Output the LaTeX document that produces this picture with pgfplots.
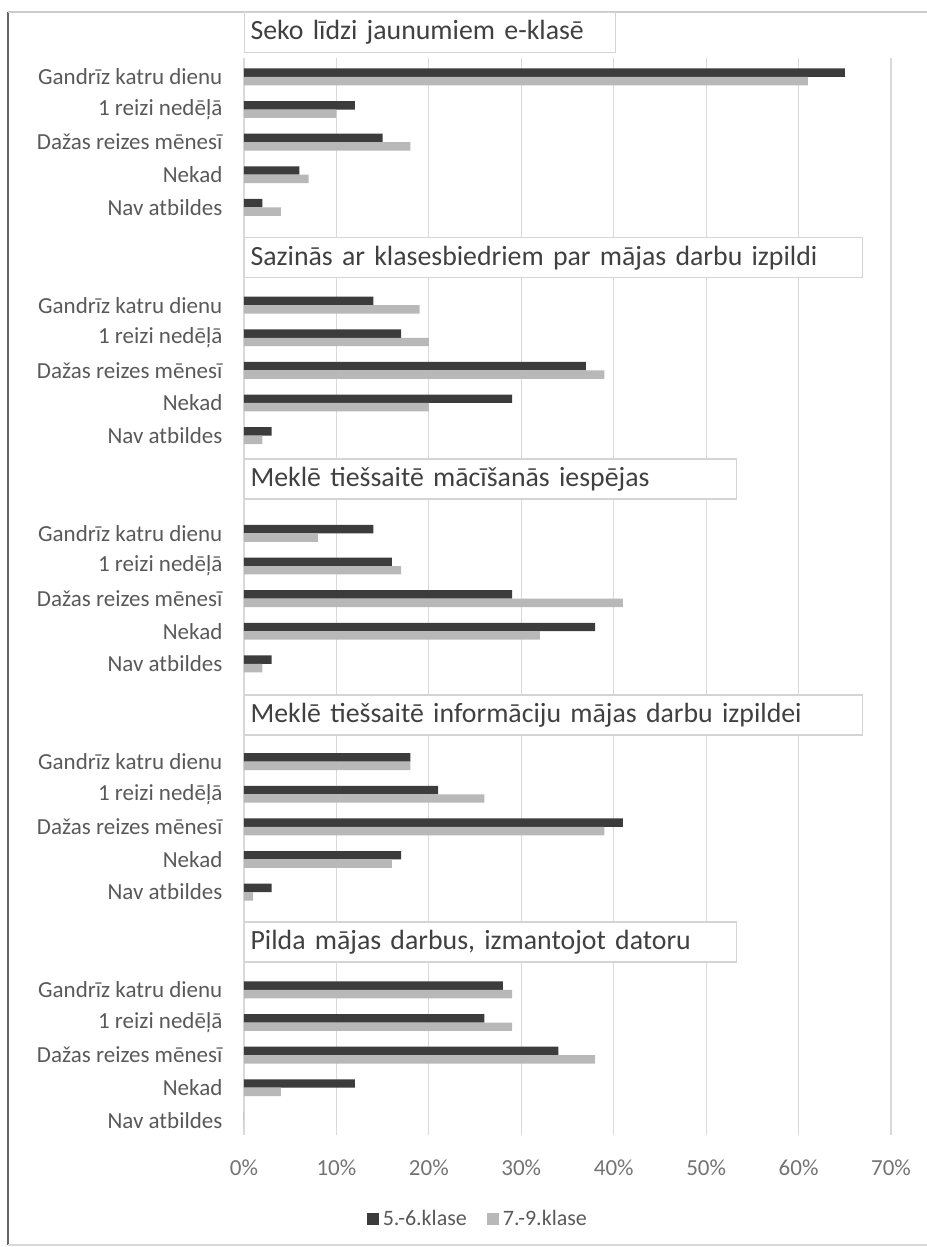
\documentclass[border=0pt]{standalone}
\usepackage{fontspec}
\setmainfont{Carlito}
\usepackage{pgfplots}
\pgfplotsset{compat=1.18}
\definecolor{darkbar}{HTML}{3C3C3C}
\definecolor{lightbar}{HTML}{B8B8B8}
\definecolor{gridc}{HTML}{D9D9D9}
\definecolor{labc}{HTML}{595959}
\definecolor{titc}{HTML}{404040}
\definecolor{boxc}{HTML}{D4D4D4}
\begin{document}
\begin{tikzpicture}
\useasboundingbox (-122pt,-56pt) rectangle (341pt,567.5pt);
\draw[color=black!60, line width=0.9pt] (-118pt,-55pt) -- (-118pt,561.5pt);
\draw[color=black!20, line width=0.6pt] (-118pt,561.5pt) -- (345pt,561.5pt);
\draw[color=black!15, line width=0.6pt] (-118pt,-55pt) -- (345pt,-55pt);
\begin{axis}[
  at={(0pt,0pt)}, anchor=south west,
  scale only axis, width=323.5pt, height=538.5pt,
  xmin=0, xmax=70, ymin=-0.58, ymax=32.45, y dir=reverse,
  xbar, bar width=0.26,
  clip=false,
  axis line style={draw=none},
  major tick length=0pt,
  xmajorgrids, grid style={gridc, line width=0.6pt},
  xtick={0,10,20,30,40,50,60,70},
  xticklabels={0\%,10\%,20\%,30\%,40\%,50\%,60\%,70\%},
  xticklabel style={anchor=center, yshift=-16.5pt, font=\fontsize{11.5}{13}\selectfont, text=black!55},
  ytick={0,1,2,3,4,7,8,9,10,11,14,15,16,17,18,21,22,23,24,25,28,29,30,31,32},
  yticklabels={Gandrīz katru dienu,1 reizi nedēļā,Dažas reizes mēnesī,Nekad,Nav atbildes,
               Gandrīz katru dienu,1 reizi nedēļā,Dažas reizes mēnesī,Nekad,Nav atbildes,
               Gandrīz katru dienu,1 reizi nedēļā,Dažas reizes mēnesī,Nekad,Nav atbildes,
               Gandrīz katru dienu,1 reizi nedēļā,Dažas reizes mēnesī,Nekad,Nav atbildes,
               Gandrīz katru dienu,1 reizi nedēļā,Dažas reizes mēnesī,Nekad,Nav atbildes},
  yticklabel style={anchor=east, xshift=-7.3pt, font=\fontsize{11.5}{13}\selectfont, text=labc},
  legend style={at={(0.363,-0.078)}, anchor=center, draw=none, fill=none,
    legend columns=2, font=\fontsize{11}{13}\selectfont, text=labc,
    /tikz/every even column/.append style={column sep=8pt}},
  legend image code/.code={\fill[#1] (0pt,-3pt) rectangle (6pt,3pt);},
]
\addplot[fill=darkbar, draw=none, bar shift=-0.13] coordinates {
  (65,0) (12,1) (15,2) (6,3) (2,4)
  (14,7) (17,8) (37,9) (29,10) (3,11)
  (14,14) (16,15) (29,16) (38,17) (3,18)
  (18,21) (21,22) (41,23) (17,24) (3,25)
  (28,28) (26,29) (34,30) (12,31) (0,32)
};
\addplot[fill=lightbar, draw=none, bar shift=0.13] coordinates {
  (61,0) (10,1) (18,2) (7,3) (4,4)
  (19,7) (20,8) (39,9) (20,10) (2,11)
  (8,14) (17,15) (41,16) (32,17) (2,18)
  (18,21) (26,22) (39,23) (16,24) (1,25)
  (29,28) (29,29) (38,30) (4,31) (0,32)
};
\legend{5.-6.klase,7.-9.klase}
\tikzset{ttl/.style={draw=boxc, line width=0.6pt, fill=white, anchor=west, minimum height=20pt,
  inner xsep=3pt, inner ysep=0pt, align=left, text=titc, font=\fontsize{13.9}{16}\selectfont}}
\node[ttl, text width=179.5pt] at (axis cs:0,-1.37) {Seko līdzi jaunumiem e-klasē};
\node[ttl, text width=303pt] at (axis cs:0,5.55) {Sazinās ar klasesbiedriem par mājas darbu izpildi};
\node[ttl, text width=240pt] at (axis cs:0,12.33) {Meklē tiešsaitē mācīšanās iespējas};
\node[ttl, text width=303pt] at (axis cs:0,19.57) {Meklē tiešsaitē informāciju mājas darbu izpildei};
\node[ttl, text width=240pt] at (axis cs:0,26.53) {Pilda mājas darbus, izmantojot datoru};
\end{axis}
\end{tikzpicture}
\end{document}
